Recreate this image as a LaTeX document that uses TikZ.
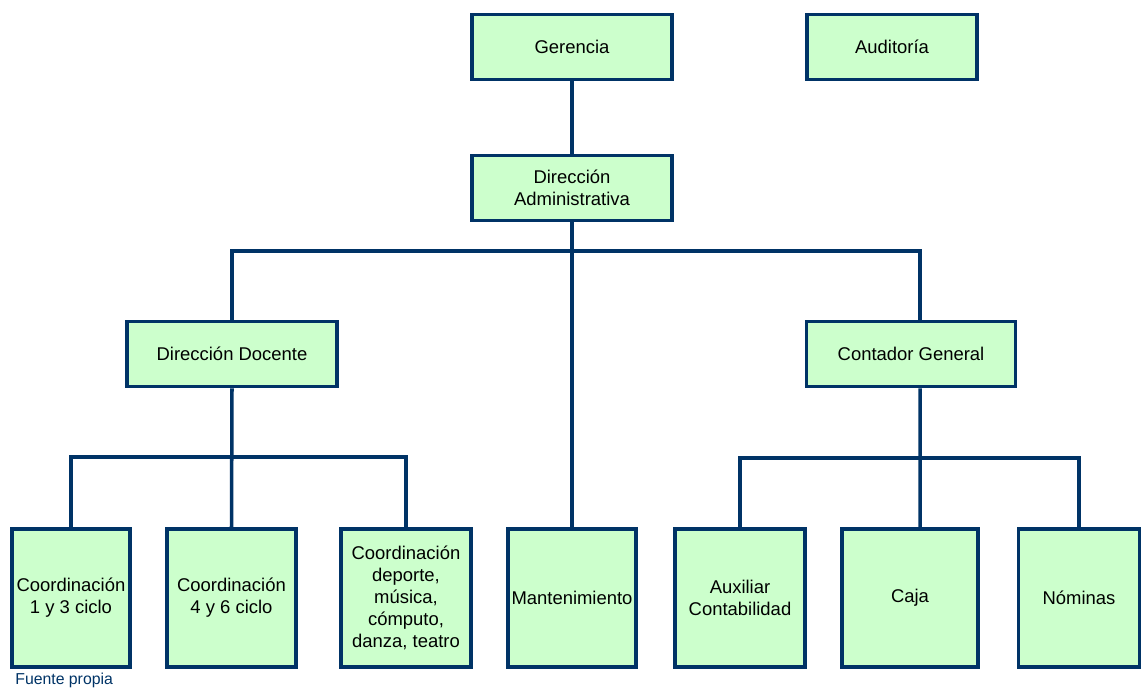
\documentclass[tikz,border=0pt]{standalone}
\usepackage{fontspec}
\setmainfont{Liberation Sans}
\usetikzlibrary{positioning}
\definecolor{onavy}{RGB}{0,51,102}
\definecolor{ogreen}{RGB}{204,255,204}

\begin{document}
\begin{tikzpicture}[x=0.02cm, y=-0.02cm,
  box/.style={draw=onavy, fill=ogreen, line width=2.2pt, inner sep=1pt,
    align=center, font=\fontsize{10.5}{12.6}\selectfont},
  topbox/.style={box, minimum height=1.3cm},
  lowbox/.style={box, minimum height=2.76cm},
  link/.style={draw=onavy, line width=2pt}]

\useasboundingbox (0,0) rectangle (1142,689);

%upper levels
\node[topbox, minimum width=4cm] (ger) at (572,47) {Gerencia};
\node[topbox, minimum width=3.4cm] (aud) at (892,47) {Auditoría};
\node[topbox, minimum width=4cm] (dadm) at (572,188) {Dirección\\Administrativa};
\node[topbox, minimum width=4.2cm] (ddoc) at (232,354) {Dirección Docente};
\node[topbox, minimum width=4.18cm] (cont) at (911,354) {Contador General};

%bottom row
\node[lowbox, minimum width=2.36cm] (coa) at (71,598) {Coordinación\\1 y 3 ciclo};
\node[lowbox, minimum width=2.58cm] (cob) at (231.5,598) {Coordinación\\4 y 6 ciclo};
\node[lowbox, minimum width=2.6cm] (coc) at (406,598) {Coordinación\\deporte,\\música,\\cómputo,\\danza, teatro};
\node[lowbox, minimum width=2.56cm] (mant) at (572,598) {Mantenimiento};
\node[lowbox, minimum width=2.6cm] (aux) at (740,598) {Auxiliar\\Contabilidad};
\node[lowbox, minimum width=2.72cm] (caja) at (910,598) {Caja};
\node[lowbox, minimum width=2.42cm] (nom) at (1079,598) {Nóminas};

%connectors
\coordinate (busadm) at (572,251);
\coordinate (busdoc) at (231.5,457);
\coordinate (buscont) at (920,458);

\draw[link] (ger) -- (dadm);
\draw[link] (dadm.south) -- (mant.north);
\draw[link] (ddoc.north) |- (busadm) -| ([xshift=0.18cm]cont.north);
\draw[link] (ddoc.south) -- (cob.north);
\draw[link] (coa.north) |- (busdoc) -| (coc.north);
\draw[link] ([xshift=0.18cm]cont.south) -- ([xshift=0.2cm]caja.north);
\draw[link] (aux.north) |- (buscont) -| (nom.north);

\node[anchor=base west, inner sep=0pt, text=onavy, font=\fontsize{9}{10}\selectfont] (src) at (15,684) {Fuente propia};

\end{tikzpicture}
\end{document}
